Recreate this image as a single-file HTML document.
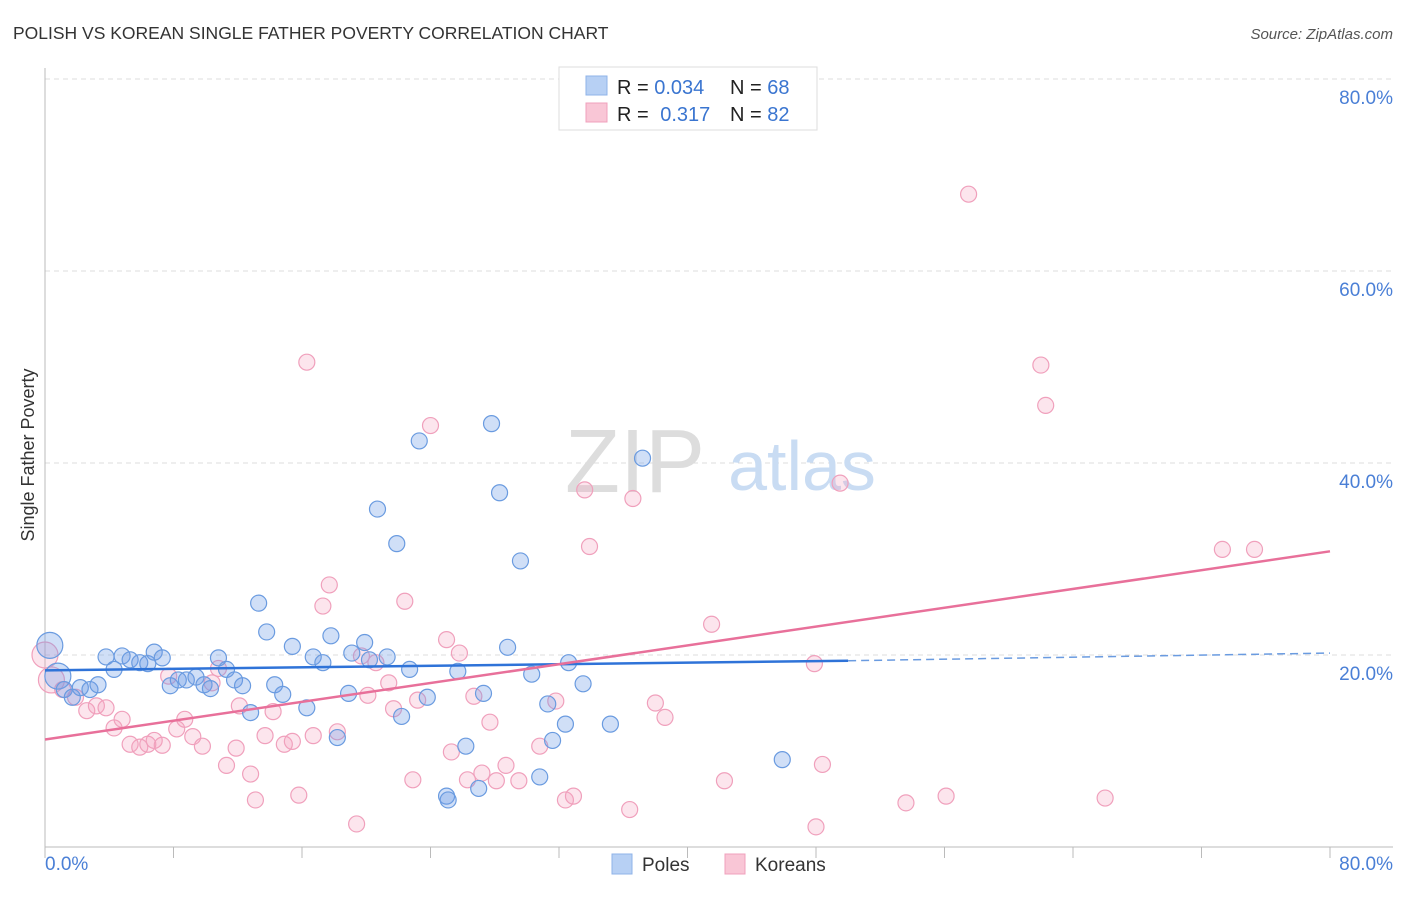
<!DOCTYPE html>
<html><head><meta charset="utf-8"><style>
body{margin:0;background:#fff;font-family:"Liberation Sans",sans-serif}
svg text{font-family:"Liberation Sans",sans-serif}
</style></head><body>
<svg id="chart" width="1406" height="892">
<text x="13" y="39" font-size="17.5" fill="#333">POLISH VS KOREAN SINGLE FATHER POVERTY CORRELATION CHART</text>
<text x="1393" y="39" font-size="15" fill="#555" font-style="italic" text-anchor="end">Source: ZipAtlas.com</text>
<g id="grid"></g>
<g><text x="635" y="492" font-size="90" font-family="Liberation Serif" fill="#ddd" text-anchor="middle">ZIP</text><text x="802" y="490" font-size="70" fill="#c9dcf3" text-anchor="middle">atlas</text></g>
<g id="axes"></g>
<g id="marks"></g>
<text transform="translate(34,455) rotate(-90)" font-size="18" fill="#333" text-anchor="middle">Single Father Poverty</text>
<g>
<rect x="559" y="67" width="258" height="63" fill="#fff" stroke="#ddd"/>
<rect x="586" y="76" width="21" height="19" fill="#b7d0f4" stroke="#8fb3e8"/>
<rect x="586" y="103" width="21" height="19" fill="#f9c6d6" stroke="#f0a0bc"/>
<text x="617" y="94" font-size="20" fill="#222">R = <tspan fill="#3a75d0">0.034</tspan></text>
<text x="730" y="94" font-size="20" fill="#222">N = <tspan fill="#3a75d0">68</tspan></text>
<text x="617" y="121" font-size="20" fill="#222">R = <tspan fill="#3a75d0" dx="6">0.317</tspan></text>
<text x="730" y="121" font-size="20" fill="#222">N = <tspan fill="#3a75d0">82</tspan></text>
</g>
<g>
<rect x="612" y="854" width="20" height="20" fill="#b7d0f4" stroke="#8fb3e8"/>
<text x="642" y="871" font-size="19" fill="#333">Poles</text>
<rect x="725" y="854" width="20" height="20" fill="#f9c6d6" stroke="#f0a0bc"/>
<text x="755" y="871" font-size="19" fill="#333">Koreans</text>
</g>
</svg>
<script>
const yTicks=[20,40,60,80];
const yTickLabels=["20.0%","40.0%","60.0%","80.0%"];
const xTickValues=[0,8,16,24,32,40,48,56,64,72,80];
const polesX=[0.3,0.8,1.2,1.7,2.2,2.8,3.3,3.8,4.3,4.8,5.3,5.9,6.4,6.8,7.3,7.8,8.3,8.8,9.4,9.9,10.3,10.8,11.3,11.8,12.3,12.8,13.3,13.8,14.3,14.8,15.4,16.3,16.7,17.3,17.8,18.2,18.9,19.1,19.9,20.2,20.7,21.3,21.9,22.2,22.7,23.3,23.8,25.0,25.1,25.7,26.2,27.0,27.3,27.8,28.3,28.8,29.6,30.3,30.8,31.3,31.6,32.4,32.6,33.5,35.2,37.2,45.9];
const polesY=[21.0,17.8,16.4,15.6,16.6,16.4,16.9,19.8,18.5,19.9,19.5,19.2,19.1,20.3,19.7,16.8,17.4,17.4,17.7,16.9,16.5,19.7,18.5,17.4,16.8,14.0,25.4,22.4,16.9,15.9,20.9,14.5,19.8,19.2,22.0,11.4,16.0,20.2,21.3,19.5,35.2,19.8,31.6,13.6,18.5,42.3,15.6,5.3,4.9,18.3,10.5,6.1,16.0,44.1,36.9,20.8,29.8,18.0,7.3,14.9,11.1,12.8,19.2,17.0,12.8,40.5,9.1];
const koreansX=[0.0,0.4,1.1,1.9,2.6,3.2,3.8,4.3,4.8,5.3,5.9,6.4,6.8,7.3,7.7,8.2,8.7,9.2,9.8,10.4,10.8,11.3,11.9,12.1,12.8,13.1,13.7,14.2,14.9,15.4,15.8,16.3,16.7,17.3,17.7,18.2,19.4,19.7,20.1,20.6,21.4,21.7,22.4,22.9,23.2,24.0,25.0,25.3,25.8,26.7,26.3,27.2,27.7,28.1,28.7,29.5,30.8,31.8,32.4,32.9,33.6,33.9,36.4,36.6,38.0,38.6,41.5,42.3,47.9,48.0,48.4,49.5,53.6,56.1,57.5,62.0,62.3,66.0,73.3,75.3];
const koreansY=[20.0,17.4,16.4,15.6,14.2,14.7,14.5,12.4,13.3,10.7,10.4,10.7,11.1,10.6,17.8,12.3,13.3,11.5,10.5,17.1,18.6,8.5,10.3,14.7,7.6,4.9,11.6,14.1,10.7,11.0,5.4,50.5,11.6,25.1,27.3,12.0,2.4,19.9,15.8,19.2,17.1,14.4,25.6,7.0,15.3,43.9,21.6,9.9,20.2,15.7,7.0,7.7,13.0,6.9,8.5,6.9,10.5,15.2,4.9,5.3,37.2,31.3,3.9,36.3,15.0,13.5,23.2,6.9,19.1,2.1,8.6,37.9,4.6,5.3,68.0,50.2,46.0,5.1,31.0,31.0];
const polesTrend=[18.4,19.4,20.2]; // at x=0, 50, 80
const koreansTrend=[11.2,30.8]; // at x=0, 80
const NS="http://www.w3.org/2000/svg";
const X0=45,X1=1330,Y0=847,Y80=79;
const sx=v=>X0+(X1-X0)*v/80, sy=v=>Y0-(Y0-Y80)*v/80;
function mk(t,a,p){const e=document.createElementNS(NS,t);for(const k in a)e.setAttribute(k,a[k]);p.appendChild(e);return e;}
const grid=document.getElementById('grid'),axes=document.getElementById('axes'),marks=document.getElementById('marks');
yTicks.forEach((v,i)=>{
 const l=mk('line',{x1:X0,x2:1393,y1:sy(v),y2:sy(v),stroke:'#ddd','stroke-dasharray':'5,4'},grid);
 
 
 const t=mk('text',{x:1393,y:sy(v)+25,'font-size':19,fill:'#4a7fd6','text-anchor':'end'},axes);
 t.textContent=yTickLabels[i];
 
 
});
mk('line',{x1:X0,x2:X0,y1:68,y2:Y0,stroke:'#bbb'},axes);
mk('line',{x1:X0,x2:1393,y1:Y0,y2:Y0,stroke:'#bbb'},axes);
xTickValues.forEach(v=>{const t=mk('line',{x1:sx(v),x2:sx(v),y1:Y0,y2:Y0+11,stroke:'#bbb'},axes);
 
 });
let t1=mk('text',{x:45,y:870,'font-size':19,fill:'#4a7fd6'},axes);t1.textContent='0.0%';


let t2=mk('text',{x:1393,y:870,'font-size':19,fill:'#4a7fd6','text-anchor':'end'},axes);t2.textContent='80.0%';


function pts(xs,ys,fill,stroke,name){xs.forEach((x,i)=>{
 const r=(i<2)?13:8;
 const c=mk('circle',{cx:sx(x),cy:sy(ys[i]),r:r,fill:fill,stroke:stroke,'stroke-width':1.2},marks);
 
 });}
pts(koreansX,koreansY,'rgba(244,160,190,0.28)','#f0a0bc','korean-point');
pts(polesX,polesY,'rgba(110,155,230,0.32)','#6a9be0','poles-point');
let a=mk('line',{x1:sx(0),y1:sy(polesTrend[0]),x2:sx(50),y2:sy(polesTrend[1]),stroke:'#2f73d8','stroke-width':2.5},marks);


let b=mk('line',{x1:sx(50),y1:sy(polesTrend[1]),x2:sx(80),y2:sy(polesTrend[2]),stroke:'#6a9be0','stroke-width':1.5,'stroke-dasharray':'8,5'},marks);


let c=mk('line',{x1:sx(0),y1:sy(koreansTrend[0]),x2:sx(80),y2:sy(koreansTrend[1]),stroke:'#e8709a','stroke-width':2.5},marks);


</script>
</body></html>
